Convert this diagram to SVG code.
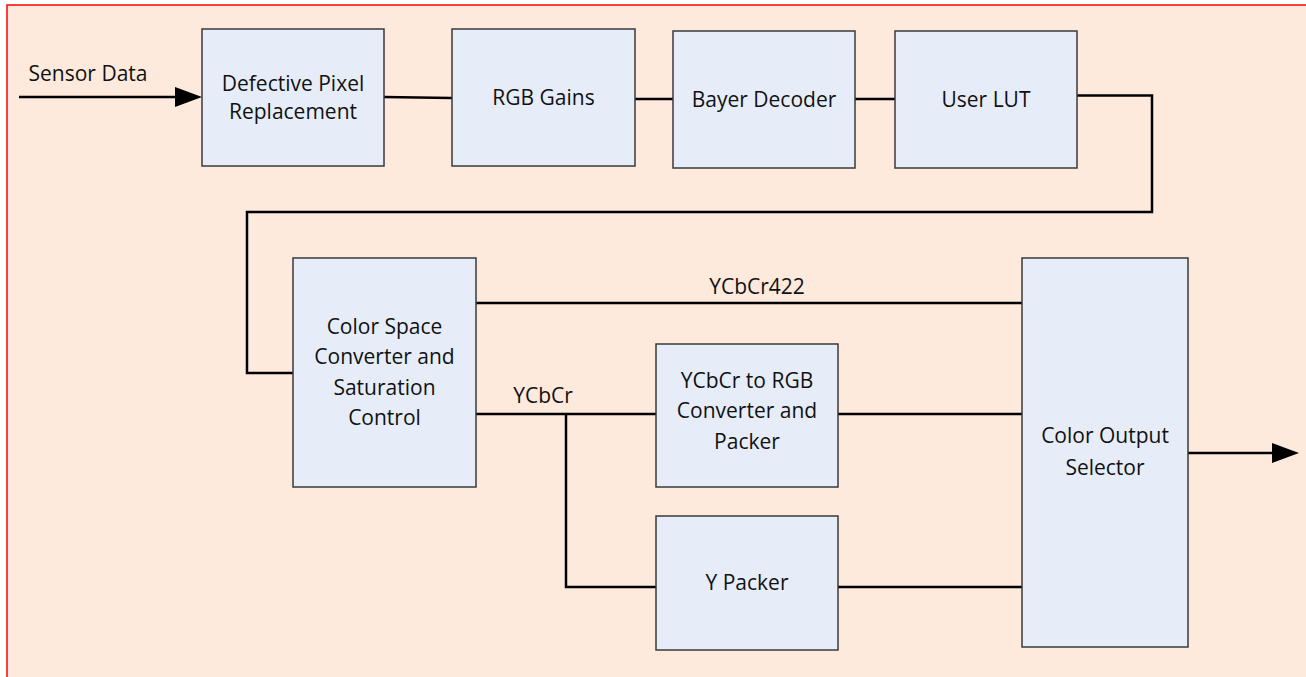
<svg xmlns="http://www.w3.org/2000/svg" width="1306" height="677" viewBox="0 0 1306 677">
<defs>
<style>
.box{fill:#E6EDF8;stroke:#3a3a3a;stroke-width:1.5}
.t{font-family:"Open Sans","Noto Sans",sans-serif;font-size:21px;fill:#111;text-anchor:middle}
.ln{fill:none;stroke:#000;stroke-width:2.5}
.ah{fill:#000}
</style>
</defs>
<rect x="0" y="0" width="1306" height="677" fill="#fff"/>
<rect x="7" y="5" width="1310" height="690" fill="#FDEADC" stroke="#FF0000" stroke-width="1.5"/>
<g id="connectors">
<path class="ln" d="M19,97 L175,97"/>
<path class="ah" d="M175,87 L202,97 L175,107 Z"/>
<path class="ln" d="M384,97 L452,98"/>
<path class="ln" d="M635,99 L673,99"/>
<path class="ln" d="M855,99 L895,99"/>
<path class="ln" d="M1077,95.5 L1152,95.5 L1152,212 L247,212 L247,373 L293,373"/>
<path class="ln" d="M476,303 L1022,303"/>
<path class="ln" d="M476,414 L656,414"/>
<path class="ln" d="M566,414 L566,587 L656,587"/>
<path class="ln" d="M838,414 L1022,414"/>
<path class="ln" d="M838,587 L1022,587"/>
<path class="ln" d="M1188,453 L1272,453"/>
<path class="ah" d="M1272,443 L1299,453 L1272,463 Z"/>
<text class="t" x="88" y="81">Sensor Data</text>
<text class="t" x="757" y="294">YCbCr422</text>
<text class="t" x="543" y="403">YCbCr</text>
</g>
<g id="dpr"><rect class="box" x="202" y="29" width="182" height="137"/><text class="t" x="293" y="91">Defective Pixel</text><text class="t" x="293" y="119">Replacement</text></g>
<g id="rgbgains"><rect class="box" x="452" y="29" width="183" height="137"/><text class="t" x="543.5" y="105">RGB Gains</text></g>
<g id="bayer"><rect class="box" x="673" y="31" width="182" height="137"/><text class="t" x="764" y="107">Bayer Decoder</text></g>
<g id="lut"><rect class="box" x="895" y="31" width="182" height="137"/><text class="t" x="986" y="107">User LUT</text></g>
<g id="csc"><rect class="box" x="293" y="258" width="183" height="229"/>
<text class="t" x="384.5" y="334">Color Space</text><text class="t" x="384.5" y="364">Converter and</text><text class="t" x="384.5" y="395">Saturation</text><text class="t" x="384.5" y="425">Control</text></g>
<g id="ycbcr2rgb"><rect class="box" x="656" y="344" width="182" height="143"/>
<text class="t" x="747" y="388">YCbCr to RGB</text><text class="t" x="747" y="418">Converter and</text><text class="t" x="747" y="449">Packer</text></g>
<g id="ypacker"><rect class="box" x="656" y="516" width="182" height="134"/><text class="t" x="747" y="590">Y Packer</text></g>
<g id="selector"><rect class="box" x="1022" y="258" width="166" height="389"/>
<text class="t" x="1105" y="443">Color Output</text><text class="t" x="1105" y="475">Selector</text></g>
</svg>
